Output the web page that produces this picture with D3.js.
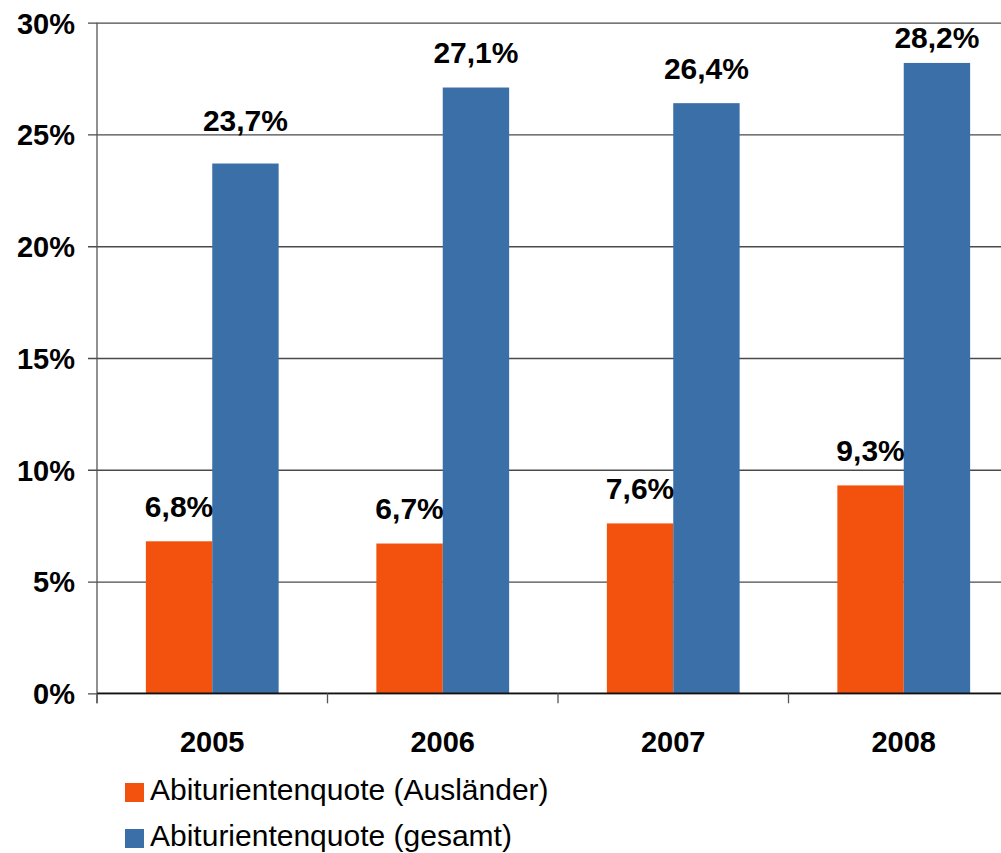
<!DOCTYPE html>
<html>
<head>
<meta charset="utf-8">
<script src="https://cdn.jsdelivr.net/npm/d3@7/dist/d3.min.js"></script>
<style>
  html, body { margin: 0; padding: 0; background: #fff; }
  svg { display: block; font-family: "Liberation Sans", Arial, sans-serif; }
</style>
</head>
<body>
<svg id="chart" width="1001" height="853"></svg>
<script>
// Daten
const years = ['2005', '2006', '2007', '2008'];
const seriesNames = ['Abiturientenquote (Ausländer)', 'Abiturientenquote (gesamt)'];
const auslaender = [6.8, 6.7, 7.6, 9.3];
const gesamt = [23.7, 27.1, 26.4, 28.2];
const yTicks = [0, 5, 10, 15, 20, 25, 30];

const colors = ['#f3520e', '#3a6fa8'];
// manuell verschobene Beschriftungen (wie im Original)
const labelNudge = { '2005-1': -8, '2008-1': 10 };

const svg = d3.select('#chart');
const plotLeft = 97, plotRight = 1019, plotTop = 22.7, plotBottom = 693.3;

const x0 = d3.scaleBand().domain(years).range([plotLeft, plotRight]).padding(0);
const gap = x0.bandwidth() * 0.212;
const x1 = d3.scaleBand().domain([0, 1]).range([gap, x0.bandwidth() - gap]).padding(0);
const y = d3.scaleLinear().domain([0, 30]).range([plotBottom, plotTop]);

// Gitterlinien + Y-Achse
const yAxis = svg.append('g')
    .attr('transform', `translate(${plotLeft},0)`)
    .call(d3.axisLeft(y).tickValues(yTicks).tickSize(9).tickFormat(d => d + '%'));
yAxis.select('.domain').remove();
yAxis.selectAll('.tick line')
    .attr('x2', 1001 - plotLeft)
    .attr('x1', -9)
    .attr('stroke', '#4a4a4a')
    .attr('stroke-width', 1.3);
yAxis.selectAll('.tick text')
    .attr('x', -22)
    .attr('dy', '0.36em')
    .attr('font-size', 29)
    .attr('font-weight', 'bold')
    .attr('fill', '#000');

// Balken
const groups = svg.append('g').selectAll('g')
    .data(years)
    .join('g')
    .attr('transform', d => `translate(${x0(d)},0)`);

groups.each(function (yr, i) {
    const vals = [auslaender[i], gesamt[i]];
    const g = d3.select(this);
    g.selectAll('rect')
        .data(vals)
        .join('rect')
        .attr('x', (d, j) => x1(j))
        .attr('width', x1.bandwidth())
        .attr('y', d => y(d))
        .attr('height', d => y(0) - y(d))
        .attr('fill', (d, j) => colors[j]);
    g.selectAll('text')
        .data(vals)
        .join('text')
        .attr('x', (d, j) => x1(j) + x1.bandwidth() / 2)
        .attr('y', (d, j) => y(d) - 24.5 + (labelNudge[yr + '-' + j] || 0))
        .attr('text-anchor', 'middle')
        .attr('font-size', 30)
        .attr('font-weight', 'bold')
        .text(d => d.toFixed(1).replace('.', ',') + '%');
});

// Achsenlinien
svg.append('line')
    .attr('x1', plotLeft).attr('x2', plotLeft)
    .attr('y1', plotTop).attr('y2', plotBottom + 10)
    .attr('stroke', '#555').attr('stroke-width', 1.3);
svg.append('line')
    .attr('x1', plotLeft).attr('x2', 1001)
    .attr('y1', plotBottom).attr('y2', plotBottom)
    .attr('stroke', '#111').attr('stroke-width', 1.5);
svg.append('g').selectAll('line')
    .data(years)
    .join('line')
    .attr('x1', d => x0(d)).attr('x2', d => x0(d))
    .attr('y1', plotBottom).attr('y2', plotBottom + 10)
    .attr('stroke', '#555').attr('stroke-width', 1.3);

// X-Beschriftung
svg.append('g').selectAll('text')
    .data(years)
    .join('text')
    .attr('x', d => x0(d) + x0.bandwidth() / 2)
    .attr('y', 752)
    .attr('text-anchor', 'middle')
    .attr('font-size', 29)
    .attr('font-weight', 'bold')
    .text(d => d);

// Legende
const legend = svg.append('g').selectAll('g')
    .data(seriesNames)
    .join('g')
    .attr('transform', (d, i) => `translate(125,${783 + i * 46})`);
legend.append('rect')
    .attr('width', 19).attr('height', 19)
    .attr('fill', (d, i) => colors[i]);
legend.append('text')
    .attr('x', 25)
    .attr('y', 17)
    .attr('font-size', 30)
    .text(d => d);
</script>
</body>
</html>
